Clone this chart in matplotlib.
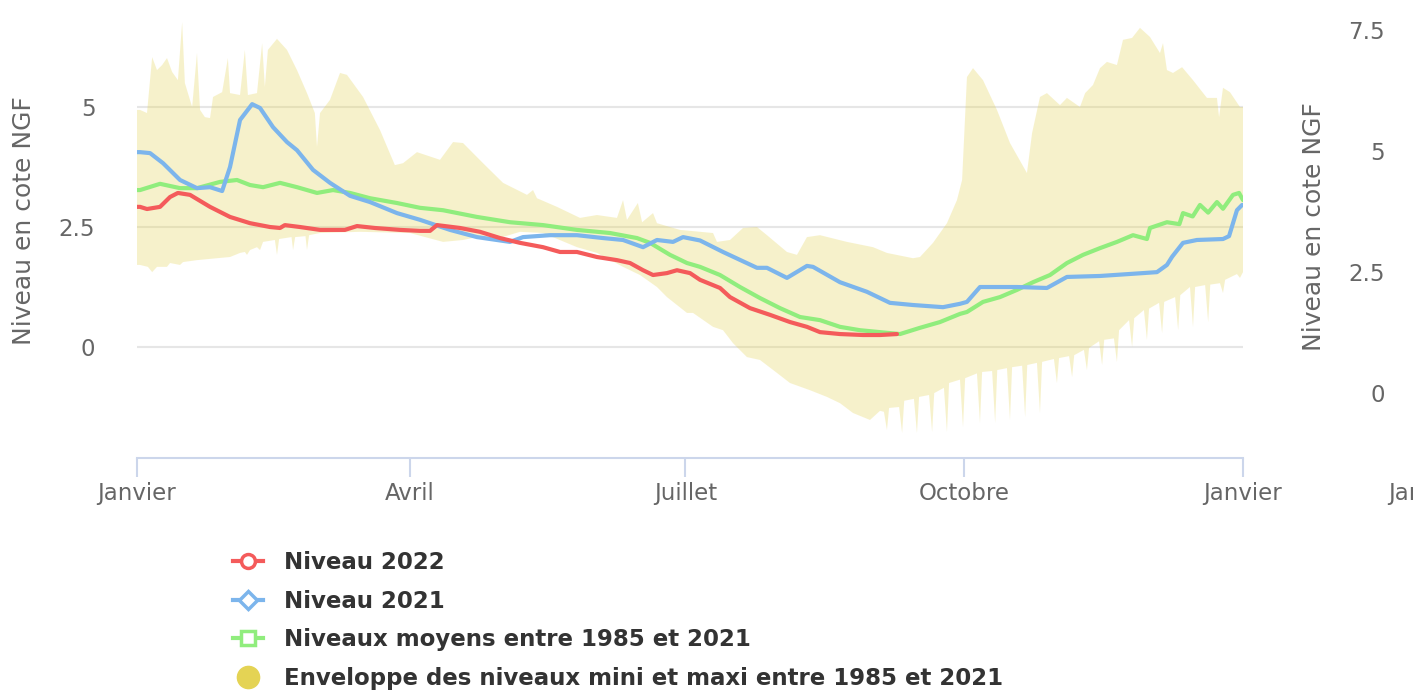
import numpy as np
import matplotlib.pyplot as plt
from matplotlib.lines import Line2D

# Day of year (0 = 1er janvier) and level (m NGF)
niv2022_days = [0, 1.0, 3.3, 7.6, 10.9, 13.5, 17.5, 24.1, 30.7, 37.3, 43.9, 47.2, 48.8, 53.8,
                60.4, 68.6, 72.6, 78.5, 86.8, 93.4, 96.7, 99.0, 106.6, 113.2, 119.8, 126.4,
                134.0, 139.6, 145.2, 151.8, 158.4, 162.7, 167.0, 170.3, 174.9, 178.2, 182.5,
                185.8, 192.4, 195.7, 202.3, 208.9, 215.5, 221.1, 225.4, 232.0, 239.6, 245.2, 250.8]
niv2022_vals = [2.92, 2.92, 2.875, 2.92, 3.125, 3.21, 3.17, 2.92, 2.71, 2.58, 2.5, 2.48, 2.54, 2.5,
                2.44, 2.44, 2.52, 2.48, 2.44, 2.42, 2.42, 2.54, 2.48, 2.40, 2.27, 2.17,
                2.08, 1.98, 1.98, 1.875, 1.81, 1.75, 1.6, 1.5, 1.54, 1.6, 1.54,
                1.4, 1.23, 1.04, 0.81, 0.67, 0.52, 0.42, 0.31, 0.27, 0.25, 0.25, 0.27]

niv2021_days = [0, 1.0, 4.3, 8.6, 14.2, 19.8, 24.1, 28.1, 30.7, 34.0, 38.0, 40.6, 44.9, 49.5,
                52.8, 58.1, 63.7, 70.3, 76.9, 85.8, 93.4, 96.7, 103.3, 112.2, 123.1, 127.4,
                136.3, 145.2, 153.8, 160.4, 167.0, 171.6, 176.9, 180.2, 185.8, 193.4, 204.6,
                207.9, 214.5, 221.1, 223.1, 232.0, 240.9, 248.5, 256.1, 266.0, 271.6, 273.9,
                278.2, 290.4, 300.3, 306.9, 317.8, 332.0, 336.6, 339.9, 341.6, 345.2, 349.8,
                358.4, 360.4, 363.0, 364.7]
niv2021_vals = [4.06, 4.06, 4.04, 3.83, 3.48, 3.31, 3.33, 3.25, 3.75, 4.73, 5.06, 4.98, 4.58, 4.27,
                4.10, 3.69, 3.42, 3.15, 3.02, 2.79, 2.65, 2.58, 2.44, 2.29, 2.19, 2.29,
                2.33, 2.33, 2.27, 2.23, 2.08, 2.23, 2.19, 2.29, 2.22, 1.98, 1.65,
                1.65, 1.44, 1.69, 1.67, 1.35, 1.15, 0.92, 0.875, 0.83, 0.9, 0.94,
                1.25, 1.25, 1.23, 1.46, 1.48, 1.54, 1.56, 1.71, 1.88, 2.17, 2.23,
                2.25, 2.31, 2.85, 2.96]

moyen_days = [0, 1.0, 7.6, 14.2, 19.8, 27.4, 33.0, 37.3, 41.6, 47.2, 52.8, 59.4, 64.7, 70.3,
              76.9, 85.8, 93.4, 101.0, 112.2, 123.1, 134.0, 145.2, 156.1, 165.0, 169.3, 175.9,
              181.5, 185.8, 192.4, 199.0, 205.6, 212.2, 218.8, 225.4, 232.0, 238.6, 245.2,
              251.8, 258.4, 265.0, 271.6, 273.9, 279.2, 284.8, 290.4, 295.7, 301.3, 306.9,
              312.2, 317.8, 323.4, 328.7, 333.3, 334.3, 339.9, 344.0, 345.2, 348.4, 350.8,
              353.5, 356.4, 358.4, 361.7, 363.7, 365]
moyen_vals = [3.27, 3.27, 3.4, 3.31, 3.31, 3.44, 3.48, 3.375, 3.33, 3.42, 3.33, 3.21, 3.27, 3.21,
              3.1, 3.0, 2.9, 2.85, 2.71, 2.6, 2.54, 2.44, 2.375, 2.27, 2.17, 1.92,
              1.75, 1.67, 1.5, 1.25, 1.02, 0.81, 0.625, 0.56, 0.42, 0.35, 0.31,
              0.27, 0.40, 0.52, 0.69, 0.73, 0.94, 1.04, 1.19, 1.35, 1.5, 1.75,
              1.92, 2.06, 2.19, 2.33, 2.25, 2.48, 2.6, 2.56, 2.79, 2.72, 2.96,
              2.80, 3.02, 2.88, 3.17, 3.21, 3.06]

env_max_days = [0, 1.0, 3.3, 5.0, 6.6, 8.3, 9.9, 11.6, 13.5, 14.9, 15.8, 18.2, 19.8, 20.8, 22.4,
                24.1, 25.1, 28.1, 30.0, 30.7, 34.0, 35.6, 36.6, 39.6, 41.3, 42.2, 43.2, 46.2,
                49.5, 52.8, 56.1, 58.7, 59.4, 60.4, 63.7, 67.0, 69.3, 74.6, 80.2, 85.1, 87.8,
                92.4, 100.0, 104.3, 107.6, 114.2, 120.8, 128.7, 130.7, 132.0, 138.6, 146.2,
                151.8, 158.4, 160.4, 161.7, 165.3, 166.7, 170.3, 171.6, 175.9, 179.2, 190.1,
                191.4, 195.7, 200.0, 204.6, 207.9, 214.5, 217.8, 221.1, 225.4, 234.3, 242.9,
                247.5, 256.1, 258.4, 262.7, 267.3, 270.6, 272.3, 273.9, 275.9, 279.2, 283.8,
                288.1, 293.7, 295.4, 298.0, 300.3, 304.6, 306.9, 311.2, 312.9, 315.5, 317.8,
                320.1, 323.4, 325.4, 328.4, 331.0, 334.3, 337.6, 338.6, 339.9, 341.9, 344.9,
                348.5, 353.1, 356.4, 357.1, 358.4, 360.7, 364.0, 365]
env_max_vals = [4.94, 4.94, 4.875, 6.04, 5.77, 5.875, 6.02, 5.73, 5.56, 6.77, 5.5, 5.0, 6.125, 4.94, 4.79,
                4.77, 5.21, 5.31, 6.02, 5.29, 5.25, 6.19, 5.25, 5.29, 6.33, 5.42, 6.19, 6.42,
                6.19, 5.77, 5.29, 4.875, 4.17, 4.875, 5.15, 5.71, 5.67, 5.21, 4.52, 3.79, 3.83,
                4.06, 3.90, 4.27, 4.25, 3.83, 3.42, 3.17, 3.27, 3.10, 2.92, 2.69,
                2.75, 2.69, 3.06, 2.65, 3.0, 2.60, 2.79, 2.58, 2.5, 2.44, 2.375,
                2.19, 2.23, 2.48, 2.5, 2.33, 1.98, 1.92, 2.29, 2.33, 2.19, 2.08,
                1.96, 1.85, 1.875, 2.17, 2.58, 3.06, 3.48, 5.625, 5.81, 5.56, 4.94,
                4.25, 3.625, 4.46, 5.21, 5.29, 5.04, 5.19, 5.0, 5.29, 5.46, 5.81,
                5.94, 5.875, 6.40, 6.44, 6.65, 6.46, 6.125, 6.33, 5.77, 5.71, 5.83,
                5.56, 5.19, 5.19, 4.79, 5.40, 5.31, 5.0, 5.0]

env_min_days = [0, 1.0, 3.6, 5.0, 6.6, 9.9, 10.9, 14.2, 15.2, 19.8, 26.4, 30.7, 34.0, 35.6, 36.3,
                37.3, 39.6, 40.6, 41.6, 45.5, 46.2, 46.9, 51.0, 51.5, 52.2, 55.6, 56.1, 56.8,
                60.4, 73.6, 90.1, 101.0, 107.6, 112.2, 117.5, 126.4, 134.0, 145.2, 151.8, 160.4,
                166.0, 171.6, 174.9, 181.5, 183.5, 190.1, 193.4, 196.7, 201.3, 205.6, 211.2,
                215.5, 222.1, 227.7, 232.0, 236.3, 241.9,
                245.2, 246.5, 247.5, 248.2, 251.5, 252.5, 253.2, 256.4, 257.4, 258.1,
                261.4, 262.4, 263.1, 266.3, 267.3, 268.0, 271.6, 272.6, 273.3,
                277.2, 278.2, 278.9, 282.2, 283.2, 283.9, 287.1, 288.1, 288.8,
                292.1, 293.1, 293.8, 297.0, 298.0, 298.7, 302.6, 303.6, 304.3,
                307.6, 308.6, 309.3, 312.5, 313.5, 314.2, 317.5, 318.5, 319.2,
                322.4, 323.4, 324.1, 327.4, 328.4, 329.1, 332.3, 333.3, 334.0,
                337.3, 338.3, 339.0, 342.6, 343.6, 344.3, 347.5, 348.5, 349.2,
                352.5, 353.5, 354.2, 357.4, 358.4, 359.1, 363.0, 364.0, 365]
env_min_vals = [1.71, 1.71, 1.67, 1.56, 1.67, 1.67, 1.75, 1.71, 1.77, 1.81, 1.85, 1.875, 1.96, 1.98, 1.92,
                2.02, 2.08, 2.02, 2.19, 2.23, 1.92, 2.25, 2.29, 2.02, 2.29, 2.31, 2.02, 2.33,
                2.375, 2.40, 2.375, 2.19, 2.23, 2.29, 2.23, 2.40, 2.375, 2.08, 1.96, 1.67,
                1.5, 1.25, 1.04, 0.71, 0.71, 0.42, 0.35, 0.08, -0.21, -0.27, -0.54,
                -0.75, -0.90, -1.04, -1.17, -1.375, -1.52,
                -1.33, -1.35, -1.73, -1.27, -1.25, -1.79, -1.12, -1.08, -1.79, -1.04,
                -1.0, -1.77, -0.96, -0.85, -1.77, -0.75, -0.68, -1.67, -0.65,
                -0.55, -1.58, -0.52, -0.50, -1.58, -0.48, -0.44, -1.52, -0.42,
                -0.39, -1.46, -0.375, -0.33, -1.375, -0.31, -0.25, -0.75, -0.23,
                -0.19, -0.625, -0.17, -0.06, -0.48, -0.02, 0.12, -0.375, 0.15,
                0.18, -0.31, 0.35, 0.56, 0.0, 0.60, 0.77, 0.15, 0.80,
                0.92, 0.29, 0.94, 1.04, 0.35, 1.08, 1.25, 0.42, 1.25,
                1.29, 0.52, 1.30, 1.33, 1.125, 1.40, 1.52, 1.44, 1.56]

month_days = [0, 90, 181, 273, 365]
month_labels = ["Janvier", "Avril", "Juillet", "Octobre", "Janvier"]
left_ticks = [0, 2.5, 5]
right_ticks = [0, 2.5, 5, 7.5]

RED, BLUE, GREEN, YELLOW = "#f45b5b", "#7cb5ec", "#90ed7d", "#e4d354"
GREY = "#666666"

fig = plt.figure(figsize=(14.13, 6.90), dpi=100)
ax = fig.add_axes([137 / 1413, 232 / 690, 1106 / 1413, 458 / 690])

# envelope as one polygon (max forward, min backward)
poly_x = np.concatenate([env_max_days, env_min_days[::-1]])
poly_y = np.concatenate([env_max_vals, env_min_vals[::-1]])
ax.fill(poly_x, poly_y, color=YELLOW, alpha=0.3, lw=0, zorder=1)

line_kw = dict(lw=3, solid_joinstyle="round", solid_capstyle="round")
ax.plot(moyen_days, moyen_vals, color=GREEN, zorder=3, **line_kw)
ax.plot(niv2021_days, niv2021_vals, color=BLUE, zorder=4, **line_kw)
ax.plot(niv2022_days, niv2022_vals, color=RED, zorder=5, **line_kw)

ax.set_xlim(0, 365)
ax.set_ylim(-2.3125, 7.23)
ax.set_yticks(left_ticks)
ax.set_yticklabels([f"{t:g}" for t in left_ticks])
ax.grid(axis="y", color="#e6e6e6", lw=1.5)
ax.set_axisbelow(True)
for s in ["left", "right", "top"]:
    ax.spines[s].set_visible(False)
ax.spines["bottom"].set_color("#ccd6eb")
ax.spines["bottom"].set_linewidth(1.5)

ax.set_xticks(month_days)
ax.set_xticklabels(month_labels)
ax.tick_params(axis="x", length=14, width=1.5, color="#ccd6eb", labelsize=16.5,
               labelcolor=GREY, pad=3)
ax.tick_params(axis="y", length=0, labelsize=16.5, labelcolor=GREY, pad=30)

# label of the next tick, cut by the image edge as in the original
ax.text(426, -0.052, "Janvier", transform=ax.get_xaxis_transform(), ha="center",
        va="top", fontsize=16.5, color=GREY, clip_on=False)

# secondary axis
ax2 = ax.twinx()
ax2.set_ylim(-1.343, 8.12)
ax2.set_yticks(right_ticks)
ax2.set_yticklabels([f"{t:g}" for t in right_ticks])
for s in ax2.spines.values():
    s.set_visible(False)
ax2.tick_params(axis="y", length=0, labelsize=16.5, labelcolor=GREY, pad=102)
for lbl in ax2.get_yticklabels():
    lbl.set_ha("right")

fig.text(24 / 1413, 1 - 221 / 690, "Niveau en cote NGF", rotation=90, ha="center",
         va="center", fontsize=18, color=GREY)
fig.text(1314 / 1413, 1 - 227 / 690, "Niveau en cote NGF", rotation=90, ha="center",
         va="center", fontsize=18, color=GREY)

handles = [
    Line2D([0], [0], color=RED, lw=3, marker="o", markersize=10, markerfacecolor="white",
           markeredgecolor=RED, markeredgewidth=2.5),
    Line2D([0], [0], color=BLUE, lw=3, marker="D", markersize=9, markerfacecolor="white",
           markeredgecolor=BLUE, markeredgewidth=2.5),
    Line2D([0], [0], color=GREEN, lw=3, marker="s", markersize=10, markerfacecolor="white",
           markeredgecolor=GREEN, markeredgewidth=2.5),
    Line2D([0], [0], lw=0, marker="o", markersize=16, color=YELLOW),
]
labels = ["Niveau 2022", "Niveau 2021", "Niveaux moyens entre 1985 et 2021",
          "Enveloppe des niveaux mini et maxi entre 1985 et 2021"]
fig.legend(handles, labels, loc="upper left", bbox_to_anchor=(233 / 1413, 1 - 551 / 690),
           frameon=False, prop=dict(weight="bold", size=16.5), labelcolor="#333333",
           handlelength=1.3, handletextpad=0.92, labelspacing=0.68, borderpad=0,
           borderaxespad=0)

fig.savefig("out.png", dpi=100)
